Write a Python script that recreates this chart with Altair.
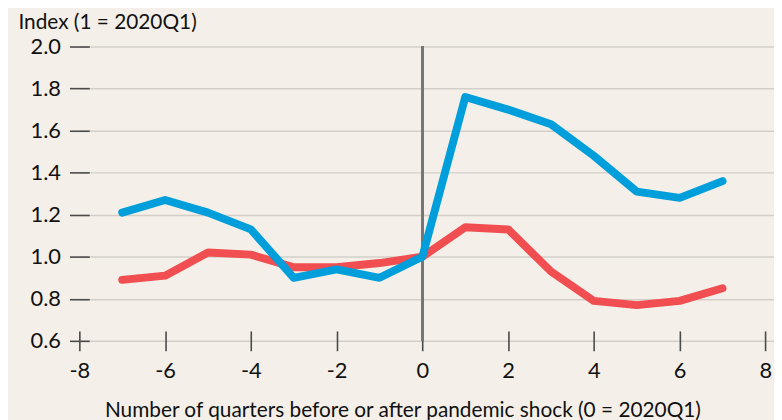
import altair as alt
import pandas as pd

# Quarters relative to the pandemic shock (0 = 2020Q1)
quarters = [-7, -6, -5, -4, -3, -2, -1, 0, 1, 2, 3, 4, 5, 6, 7]
blue_values = [1.21, 1.27, 1.21, 1.13, 0.90, 0.94, 0.90, 1.00, 1.76, 1.70, 1.63, 1.48, 1.31, 1.28, 1.36]
red_values = [0.89, 0.91, 1.02, 1.01, 0.95, 0.95, 0.97, 1.00, 1.14, 1.13, 0.93, 0.79, 0.77, 0.79, 0.85]
x_ticks = [-8, -6, -4, -2, 0, 2, 4, 6, 8]
y_ticks = [0.6, 0.8, 1.0, 1.2, 1.4, 1.6, 1.8, 2.0]

df = pd.DataFrame({
    "quarter": quarters * 2,
    "index": blue_values + red_values,
    "series": ["blue"] * len(quarters) + ["red"] * len(quarters),
})

FONT = "Lato"
BG = "#F4F0E9"

x_scale = alt.Scale(domain=[-8, 8.2], nice=False, zero=False)
y_scale = alt.Scale(domain=[0.6, 2.0], nice=False, zero=False)

x_axis = alt.Axis(
    values=x_ticks, domain=False, grid=False,
    labelExpr="datum.value < 0 ? '-' + abs(datum.value) : '' + datum.value",
    tickSize=20, tickWidth=1.6, tickColor="#4a4a4a", offset=-10,
    labelFontSize=22, labelFont=FONT, labelColor="#111111", labelPadding=10,
    labelFlush=False,
    title="Number of quarters before or after pandemic shock (0 = 2020Q1)",
    titleFont=FONT, titleFontSize=21, titleFontWeight="normal", titleColor="#111111",
    titleX=326, titleY=86, titleAnchor="start", titleAlign="center", titleBaseline="alphabetic",
)
y_axis = alt.Axis(
    values=y_ticks, format=".1f", domain=False, grid=True,
    gridColor="#d3cfc8", gridWidth=1.5,
    tickSize=20, tickWidth=1.6, tickColor="#4a4a4a", offset=-10,
    labelFontSize=22, labelFont=FONT, labelColor="#111111", labelPadding=9,
    labelBaseline="middle",
    title="Index (1 = 2020Q1)",
    titleFont=FONT, titleFontSize=21, titleFontWeight="normal", titleColor="#111111",
    titleAngle=0, titleX=-72, titleY=-18, titleAlign="left", titleBaseline="alphabetic",
)

base = alt.Chart(df)

zero_rule = base.mark_rule(color="#777777", strokeWidth=2.6).encode(
    x=alt.datum(0, scale=x_scale, axis=x_axis, type="quantitative"),
    y=alt.datum(2.0, scale=y_scale, axis=y_axis, type="quantitative"),
    y2=alt.datum(0.6),
)

line_kw = dict(strokeWidth=8, strokeCap="round", strokeJoin="round")
red_line = base.transform_filter(alt.datum.series == "red").mark_line(
    color="#F04E50", **line_kw
).encode(
    x=alt.X("quarter:Q", scale=x_scale, axis=x_axis),
    y=alt.Y("index:Q", scale=y_scale, axis=y_axis),
)
blue_line = base.transform_filter(alt.datum.series == "blue").mark_line(
    color="#009FDB", **line_kw
).encode(
    x=alt.X("quarter:Q", scale=x_scale, axis=x_axis),
    y=alt.Y("index:Q", scale=y_scale, axis=y_axis),
)

chart = alt.layer(zero_rule, red_line, blue_line).properties(
    width=701, height=297,
    autosize=alt.AutoSizeParams(type="none"),
    padding={"left": 72, "top": 37, "right": 0, "bottom": 78},
    background=BG,
).configure_view(stroke=None)

chart.save("out.html", embed_options={"renderer": "svg", "actions": False})
